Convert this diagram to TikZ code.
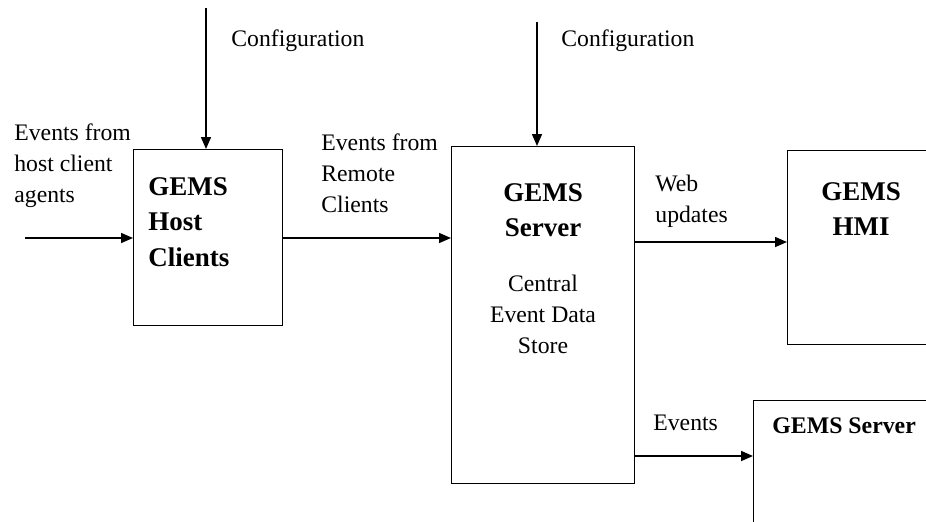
\documentclass[tikz,border=0pt]{standalone}
\usepackage{fontspec}
\setmainfont{Liberation Serif}
\usetikzlibrary{arrows.meta}

\tikzset{
  block/.style={draw, line width=0.7pt, rectangle, inner sep=0pt, anchor=north west},
  flow/.style={-{Triangle[length=6pt,width=5pt]}, line width=0.75pt},
  lbl/.style={anchor=north west, inner sep=0pt, align=left, font=\fontsize{11.85}{15.5}\selectfont},
  boxtitle/.style={inner sep=0pt, font=\bfseries\fontsize{13.5}{17.75}\selectfont}
}

\begin{document}
\begin{tikzpicture}[x=0.5pt,y=-0.5pt]

\useasboundingbox (0,0) rectangle (926,521);
\clip (0,0) rectangle (926,521);

% boxes
\node[block, minimum width=74.5pt, minimum height=88pt] (host) at (133,149) {};
\node[block, minimum width=91.5pt, minimum height=168.5pt] (server) at (451,146) {};
\node[block, minimum width=74pt, minimum height=97pt] (hmi) at (787,150) {};
\node[block, minimum width=98.5pt, minimum height=80pt] (remote) at (753,400) {};

% box texts
\node[boxtitle, anchor=north west, align=left] (hosttxt) at (148,177) {GEMS\\Host\\Clients};
\node[boxtitle, anchor=north, align=center] (servertxt) at (543,183) {GEMS\\Server};
\node[lbl, anchor=north, align=center] (storetxt) at (543,275) {Central\\Event Data\\Store};
\node[boxtitle, anchor=north, align=center] (hmitxt) at (861,182) {GEMS\\HMI};
\node[boxtitle, anchor=north west, font=\bfseries\fontsize{11.9}{15.5}\selectfont] (remotetxt) at (772,417) {GEMS Server};

% free ends
\coordinate (agents) at (25,238);
\coordinate (cfghost) at (206,8);
\coordinate (cfgserver) at (537,22);

% connectors
\draw[flow] (agents) -- (agents -| host.west);
\draw[flow] (cfghost) -- (cfghost |- host.north);
\draw[flow] (host.east |- agents) -- (host.east |- agents -| server.west);
\draw[flow] (cfgserver) -- (cfgserver |- server.north);
\draw[flow] (server.east |- 0,242) -- (hmi.west |- 0,242);
\draw[flow] (server.east |- 0,456) -- (remote.west |- 0,456);

% labels
\node[lbl] (agentslbl) at (14,123) {Events from\\host client\\agents};
\node[lbl] (cfghostlbl) at (231,29) {Configuration};
\node[lbl] (remotelbl) at (321,133) {Events from\\Remote\\Clients};
\node[lbl] (cfgserverlbl) at (561,29) {Configuration};
\node[lbl] (weblbl) at (655,175) {Web\\updates};
\node[lbl] (eventslbl) at (653,415) {Events};

\end{tikzpicture}
\end{document}
